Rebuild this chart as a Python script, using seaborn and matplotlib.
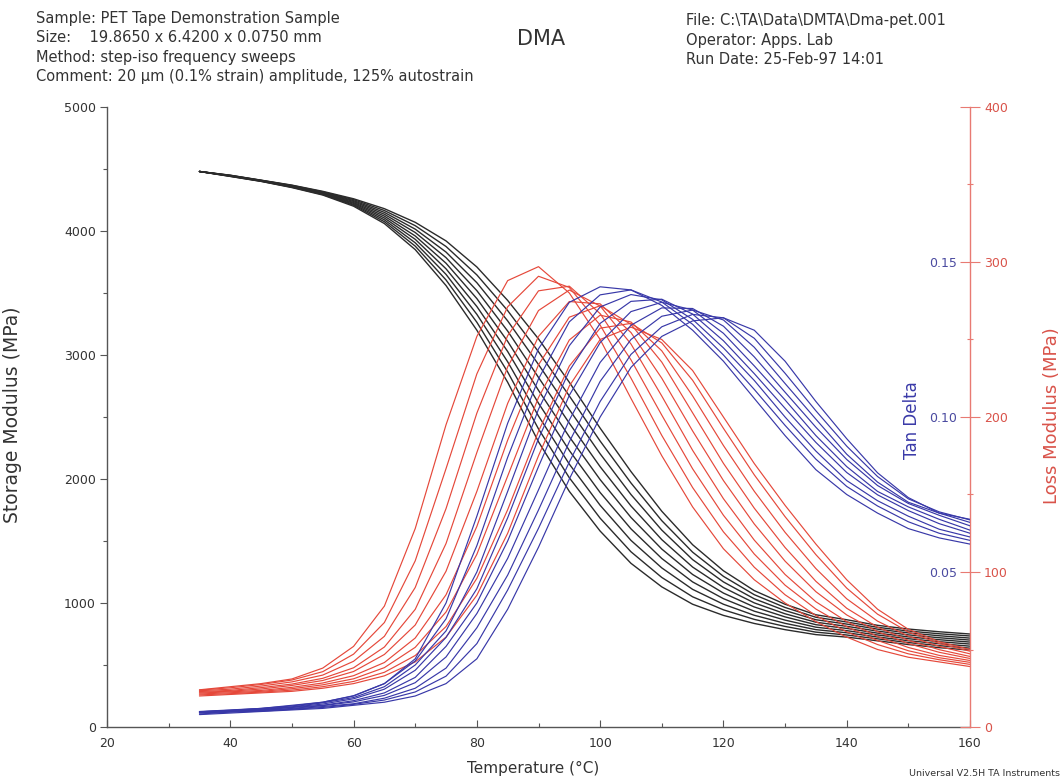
import matplotlib
matplotlib.use("Agg")
import matplotlib.pyplot as plt
from matplotlib.ticker import MultipleLocator, FixedLocator
import seaborn as sns
import pandas as pd

sns.set_theme(style="white")
plt.rcParams['font.family'] = ['DejaVu Sans']

# ---------------- data ----------------
temperature = [35, 40, 45, 50, 55, 60, 65, 70, 75, 80, 85, 90, 95, 100,
               105, 110, 115, 120, 125, 130, 135, 140, 145, 150, 155, 160]

storage_curves = [
    [4480, 4440, 4400, 4350, 4290, 4200, 4060, 3850, 3560, 3200, 2780, 2300, 1900, 1580, 1320, 1130, 990, 900, 835, 785, 745, 725, 695, 665, 640, 620],
    [4480, 4441, 4401, 4353, 4294, 4208, 4075, 3878, 3605, 3264, 2863, 2404, 2010, 1684, 1413, 1206, 1050, 945, 868, 811, 765, 742, 711, 681, 656, 636],
    [4480, 4443, 4403, 4355, 4298, 4215, 4090, 3905, 3650, 3328, 2945, 2508, 2120, 1788, 1505, 1283, 1110, 990, 901, 836, 785, 760, 726, 696, 672, 652],
    [4480, 4444, 4404, 4358, 4301, 4223, 4105, 3933, 3695, 3391, 3028, 2611, 2230, 1891, 1598, 1359, 1170, 1035, 934, 862, 805, 777, 742, 712, 688, 669],
    [4480, 4445, 4405, 4360, 4305, 4230, 4120, 3960, 3740, 3455, 3110, 2715, 2340, 1995, 1690, 1435, 1230, 1080, 968, 888, 825, 795, 757, 727, 704, 685],
    [4480, 4446, 4406, 4363, 4309, 4238, 4135, 3988, 3785, 3519, 3193, 2819, 2450, 2099, 1783, 1511, 1290, 1125, 1001, 913, 845, 812, 773, 743, 720, 701],
    [4480, 4448, 4408, 4365, 4313, 4245, 4150, 4015, 3830, 3583, 3275, 2923, 2560, 2203, 1875, 1588, 1350, 1170, 1034, 939, 865, 830, 789, 759, 736, 717],
    [4480, 4449, 4409, 4368, 4316, 4253, 4165, 4043, 3875, 3646, 3358, 3026, 2670, 2306, 1968, 1664, 1410, 1215, 1067, 964, 885, 847, 804, 774, 752, 734],
    [4480, 4450, 4410, 4370, 4320, 4260, 4180, 4070, 3920, 3710, 3440, 3130, 2780, 2410, 2060, 1740, 1470, 1260, 1100, 990, 905, 865, 820, 790, 768, 750],
]

loss_curves = [
    [24, 26, 28, 31, 38, 52, 78, 128, 195, 252, 288, 297, 280, 250, 212, 175, 142, 115, 95, 80, 68, 58, 50, 45, 42, 39],
    [23.8, 25.3, 27.4, 30.3, 35.7, 47, 67.4, 107.2, 166.7, 227.8, 271.1, 290.8, 283.6, 259.3, 225.1, 188.1, 154.5, 125.9, 103.1, 85.3, 71.9, 61.4, 53.2, 47.2, 43.4, 40.4],
    [23.4, 24.4, 26.4, 29.1, 33.5, 42.4, 58.5, 90, 140.9, 202.5, 252.5, 281.4, 284.4, 266.7, 236.9, 201.2, 166.6, 136.6, 111.6, 91.5, 76.1, 64.7, 55.8, 49.2, 44.7, 41.7],
    [22.9, 23.6, 25.4, 27.7, 31.4, 38.2, 51.6, 75.9, 118.4, 177.1, 232.4, 268.7, 281.9, 271.6, 247.1, 213.5, 178.5, 147.3, 120.6, 98.4, 80.8, 68, 58.4, 51.3, 46.2, 42.9],
    [22.4, 23.1, 24.5, 26.8, 30, 35.8, 46.8, 65.8, 100.5, 152, 208.8, 252, 274.5, 273, 254.5, 225, 191, 159, 131, 107, 87.3, 72.3, 61.5, 53.8, 48.2, 44.2],
    [21.9, 22.7, 23.6, 25.6, 28.4, 33.1, 41.6, 57.4, 85.3, 129.4, 185.1, 233.7, 264.4, 271.8, 259.8, 235.4, 202.7, 170.1, 141.2, 115.8, 94, 76.6, 64.4, 55.9, 49.9, 45.5],
    [21.3, 22.1, 23, 24.7, 27.2, 31.1, 38.3, 51.4, 74.2, 111.4, 161.9, 212.6, 249.7, 265.7, 261.3, 242.7, 213.6, 181.6, 152.1, 125.6, 102.2, 82.7, 68.3, 58.6, 52, 47.2],
    [20.7, 21.5, 22.5, 23.8, 26, 29.4, 35.3, 46.1, 64.8, 95.9, 140.2, 190.8, 232.9, 257.3, 260.4, 247.8, 223.7, 192.7, 162.7, 135.7, 111.2, 89.6, 72.8, 61.3, 53.9, 48.9],
    [20, 21, 22, 23, 25, 28, 33, 42, 58, 85, 125, 175, 220, 250, 258, 250, 230, 200, 170, 143, 118, 95, 76, 63, 55, 50],
]

tan_delta_curves = [
    [.0050, .0055, .0060, .0070, .0080, .0100, .0140, .0220, .0400, .0680, .0980, .1220, .1370, .1420, .1410, .1360, .1280, .1180, .1060, .0940, .0830, .0750, .0690, .0640, .0610, .0590],
    [.0049, .0054, .0060, .0068, .0080, .0101, .0140, .0213, .0349, .0585, .0870, .1123, .1307, .1394, .1410, .1371, .1299, .1200, .1089, .0973, .0864, .0776, .0713, .0662, .0625, .0602],
    [.0049, .0053, .0059, .0065, .0078, .0095, .0130, .0200, .0310, .0500, .0760, .1025, .1230, .1355, .1395, .1378, .1315, .1223, .1118, .1000, .0890, .0795, .0730, .0680, .0638, .0613],
    [.0048, .0052, .0057, .0064, .0074, .0091, .0122, .0183, .0289, .0446, .0675, .0930, .1149, .1302, .1373, .1380, .1332, .1246, .1140, .1028, .0918, .0821, .0749, .0698, .0656, .0625],
    [.0048, .0051, .0055, .0063, .0070, .0085, .0110, .0160, .0260, .0400, .0600, .0840, .1070, .1240, .1340, .1370, .1345, .1270, .1165, .1055, .0940, .0840, .0760, .0710, .0670, .0635],
    [.0047, .0050, .0054, .0060, .0069, .0081, .0102, .0143, .0226, .0366, .0544, .0765, .0990, .1176, .1296, .1352, .1350, .1293, .1194, .1080, .0967, .0863, .0779, .0721, .0683, .0649],
    [.0045, .0049, .0053, .0058, .0066, .0075, .0093, .0125, .0190, .0320, .0490, .0700, .0920, .1115, .1250, .1325, .1345, .1313, .1225, .1108, .0993, .0880, .0790, .0725, .0690, .0660],
    [.0042, .0048, .0051, .0057, .0063, .0073, .0087, .0113, .0164, .0269, .0442, .0641, .0855, .1050, .1202, .1291, .1331, .1320, .1254, .1141, .1020, .0906, .0808, .0736, .0694, .0668],
    [.0040, .0045, .0050, .0055, .0060, .0070, .0080, .0100, .0140, .0220, .0380, .0580, .0800, .1000, .1160, .1260, .1310, .1320, .1280, .1180, .1050, .0930, .0820, .0740, .0690, .0670],
]

x_ticks = [20, 40, 60, 80, 100, 120, 140, 160]
storage_ticks = [0, 1000, 2000, 3000, 4000, 5000]
loss_ticks = [0, 100, 200, 300, 400]
tan_ticks = [0.05, 0.10, 0.15]

header_left = ["Sample: PET Tape Demonstration Sample",
               "Size:    19.8650 x 6.4200 x 0.0750 mm",
               "Method: step-iso frequency sweeps",
               "Comment: 20 \u00b5m (0.1% strain) amplitude, 125% autostrain"]
header_right = ["File: C:\\TA\\Data\\DMTA\\Dma-pet.001",
                "Operator: Apps. Lab",
                "Run Date: 25-Feb-97 14:01"]


def long_frame(curves):
    rows = []
    for i, vals in enumerate(curves):
        for t, v in zip(temperature, vals):
            rows.append({"T": t, "v": v, "curve": i})
    return pd.DataFrame(rows)


W, H = 1064, 782
fig = plt.figure(figsize=(W / 100, H / 100), dpi=100)
fig.patch.set_facecolor("white")
x0, x1, y0, y1 = 107, 970, 107, 727
ax = fig.add_axes([x0 / W, 1 - y1 / H, (x1 - x0) / W, (y1 - y0) / H])
ax.set_facecolor("none")

black = "#2b2b2b"
red = "#e5483a"
blue = "#3838a8"
axis_gray = "#555555"
text_gray = "#333333"

sns.lineplot(data=long_frame(storage_curves), x="T", y="v", units="curve",
             estimator=None, color=black, lw=1.0, ax=ax, sort=False)

ax.set_xlim(20, 160)
ax.set_ylim(0, 5000)
ax.set_xticks(x_ticks)
ax.xaxis.set_minor_locator(MultipleLocator(10))
ax.set_yticks(storage_ticks)
ax.yaxis.set_minor_locator(MultipleLocator(500))
for s in ["top", "right"]:
    ax.spines[s].set_visible(False)
for s in ["left", "bottom"]:
    ax.spines[s].set_color(axis_gray)
    ax.spines[s].set_linewidth(1.0)
ax.tick_params(axis="y", which="major", direction="out", length=5, width=0.8,
               color=axis_gray, labelsize=9, labelcolor=text_gray, pad=3, left=True)
ax.tick_params(axis="y", which="minor", direction="out", length=3, width=0.8,
               color=axis_gray, left=True)
ax.tick_params(axis="x", which="major", direction="in", length=5, width=0.8,
               color=axis_gray, labelsize=9, labelcolor=text_gray, pad=7, bottom=True)
ax.tick_params(axis="x", which="minor", direction="in", length=3, width=0.8,
               color=axis_gray, bottom=True)
ax.set_xlabel("Temperature (\u00b0C)", fontsize=11, color=text_gray)
ax.xaxis.set_label_coords(0.494, -0.055)
ax.set_ylabel("Storage Modulus (MPa)", fontsize=13.5, color=text_gray)
ax.yaxis.set_label_coords(-0.098, 0.503)

# loss modulus axis (red)
axl = ax.twinx()
axl.set_facecolor("none")
sns.lineplot(data=long_frame(loss_curves), x="T", y="v", units="curve",
             estimator=None, color=red, lw=0.85, ax=axl, sort=False)
axl.set_ylim(0, 400)
axl.set_yticks(loss_ticks)
axl.yaxis.set_minor_locator(MultipleLocator(50))
for s in ["top", "left", "bottom"]:
    axl.spines[s].set_visible(False)
axl.spines["right"].set_color("#e87a72")
axl.spines["right"].set_linewidth(1.0)
axl.tick_params(axis="y", which="major", direction="inout", length=14, width=0.8,
                color="#e87a72", labelsize=9, labelcolor="#d9534a", pad=3)
axl.tick_params(axis="y", which="minor", direction="inout", length=5, width=0.8,
                color="#e87a72")
axl.set_ylabel("Loss Modulus (MPa)", fontsize=13, color="#d9534a", rotation=90)
axl.yaxis.set_label_coords(1.085, 0.503)

# tan delta axis (blue)
axt = ax.twinx()
axt.set_facecolor("none")
sns.lineplot(data=long_frame(tan_delta_curves), x="T", y="v", units="curve",
             estimator=None, color=blue, lw=0.85, ax=axt, sort=False)
axt.set_ylim(0, 0.2)
axt.yaxis.set_major_locator(FixedLocator(tan_ticks))
axt.set_yticklabels(["0.05", "0.10", "0.15"])
for s in axt.spines.values():
    s.set_visible(False)
axt.tick_params(axis="y", which="major", length=0, labelsize=9,
                labelcolor="#4a4aa0", pad=-9)
for lbl in axt.get_yticklabels():
    lbl.set_horizontalalignment("right")
axt.set_ylabel("Tan Delta", fontsize=12, color="#3a3aa8", rotation=90)
axt.yaxis.set_label_coords(0.922, 0.495)

# header texts
for i, line in enumerate(header_left):
    fig.text(36 / W, 1 - (18 + 19.6 * i) / H, line, fontsize=10.5, color=text_gray,
             va="center", ha="left")
for i, line in enumerate(header_right):
    fig.text(686 / W, 1 - (21 + 19 * i) / H, line, fontsize=10.5, color=text_gray,
             va="center", ha="left")
fig.text(541 / W, 1 - 39 / H, "DMA", fontsize=15, color=text_gray,
         va="center", ha="center")
fig.text(1060 / W, 1 - 773 / H, "Universal V2.5H TA Instruments", fontsize=6.8,
         color=text_gray, va="center", ha="right")

fig.savefig("out.png", dpi=100, facecolor="white")
